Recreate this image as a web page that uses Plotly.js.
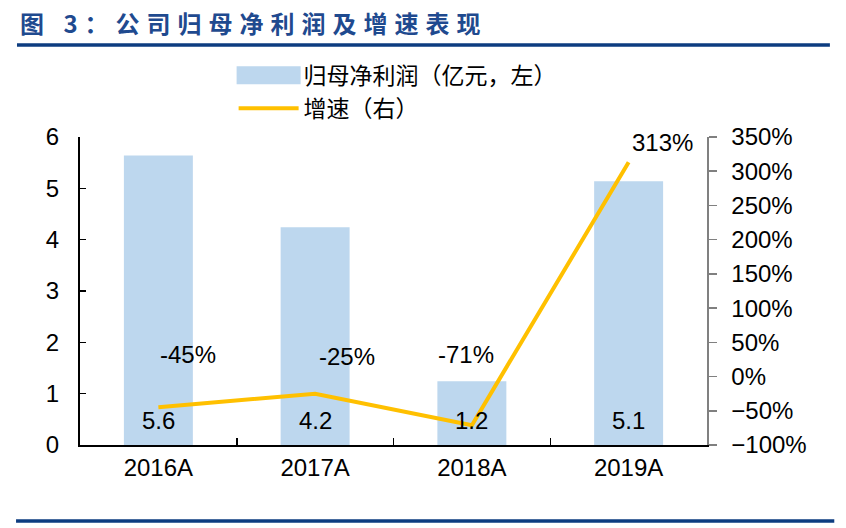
<!DOCTYPE html>
<html><head><meta charset="utf-8">
<script src="https://cdn.plot.ly/plotly-3.0.1.min.js"></script>
<style>
html,body{margin:0;padding:0;background:#fff;}
#chart .gtitle{letter-spacing:7px;}
</style>
</head><body>
<div id="chart" style="width:846px;height:528px;"></div>
<script>
const categories = ['2016A','2017A','2018A','2019A'];
const profit = [5.64, 4.24, 1.24, 5.14];      // 归母净利润（亿元）
const growth = [-45, -25, -71, 313];          // 增速（%）
const growthLabelShift = [[30,53],[32,37],[-6,71],[34,20]];

const numFont = {family:'Liberation Sans, Arial, sans-serif', size:24, color:'#000'};
const cjk = 'Noto Sans CJK SC, sans-serif';

const annotations = [];
categories.forEach((c,i)=>{
  annotations.push({x:c, y:0, xref:'x', yref:'y', text:profit[i].toFixed(1), showarrow:false,
    yshift:25, font:numFont});
  annotations.push({x:c, y:growth[i], xref:'x', yref:'y2', text:growth[i]+'%', showarrow:false,
    xshift:growthLabelShift[i][0], yshift:growthLabelShift[i][1], font:numFont});
});

const data = [
  {type:'bar', x:categories, y:profit, name:'归母净利润（亿元，左）', width:0.44,
   marker:{color:'#BDD7EE'}, hoverinfo:'skip'},
  {type:'scatter', mode:'lines', x:categories, y:growth, yaxis:'y2', name:'增速（右）',
   line:{color:'#FFC000', width:4}, hoverinfo:'skip'}
];

const layout = {
  width:846, height:528,
  margin:{l:80, r:139, t:137, b:83},
  paper_bgcolor:'#fff', plot_bgcolor:'#fff',
  font:{family:'Liberation Sans, Arial, sans-serif', color:'#000'},
  title:{text:'<b>图 3：公司归母净利润及增速表现</b>', xref:'container', yref:'container',
    x:20/846, xanchor:'left', y:1-25/528, yanchor:'middle',
    font:{family:cjk, size:24, color:'#1F4A8F'}},
  showlegend:true,
  legend:{x:0.245, y:1.27, xanchor:'left', yanchor:'top', orientation:'v',
    font:{family:cjk, size:23, color:'#000'}, itemwidth:60, tracegroupgap:0,
    bgcolor:'rgba(0,0,0,0)'},
  bargap:0.56,
  xaxis:{type:'category', range:[-0.5,3.5], showline:true, linecolor:'#000', linewidth:2,
    ticks:'inside', tickson:'boundaries', ticklen:7, tickcolor:'#000', tickwidth:1.5,
    tickfont:numFont, showgrid:false, zeroline:false, fixedrange:true},
  yaxis:{range:[0,6], dtick:1, showline:true, linecolor:'#000', linewidth:2,
    ticks:'inside', ticklen:6, tickcolor:'#000', tickwidth:1.5, tickfont:numFont,
    showgrid:false, zeroline:false, ticklabelstandoff:14},
  yaxis2:{overlaying:'y', side:'right', range:[-100,350], dtick:50, ticksuffix:'%',
    showline:true, linecolor:'#808080', linewidth:1.5, ticks:'outside', ticklen:8,
    tickcolor:'#808080', tickwidth:1.5, tickfont:numFont, showgrid:false, zeroline:false,
    ticklabelstandoff:10},
  annotations:annotations,
  shapes:[
    {type:'line', xref:'paper', yref:'paper', x0:-0.1005, x1:1.196, y0:1.2987, y1:1.2987,
     line:{color:'#0D3C80', width:3.5}},
    {type:'line', xref:'paper', yref:'paper', x0:-0.102, x1:1.203, y0:-0.2468, y1:-0.2468,
     line:{color:'#0D3C80', width:3.5}}
  ]
};

Plotly.newPlot('chart', data, layout, {displayModeBar:false, staticPlot:true}).then(gd=>{
  // widen the bar legend swatch to a wide rectangle like the reference
  const items = gd.querySelectorAll('.legend .traces');
  if (items.length >= 2) {
    const linePath = items[1].querySelector('.legendlines path');
    const barPath = items[0].querySelector('.legendpoints path');
    if (linePath && barPath) {
      const bb = linePath.getBBox();
      const x0 = bb.x - 2, w = bb.width + 4;
      barPath.removeAttribute('transform');
      barPath.setAttribute('d', 'M' + x0 + ',-9h' + w + 'v18h' + (-w) + 'Z');
    }
  }
});
</script>
</body></html>
